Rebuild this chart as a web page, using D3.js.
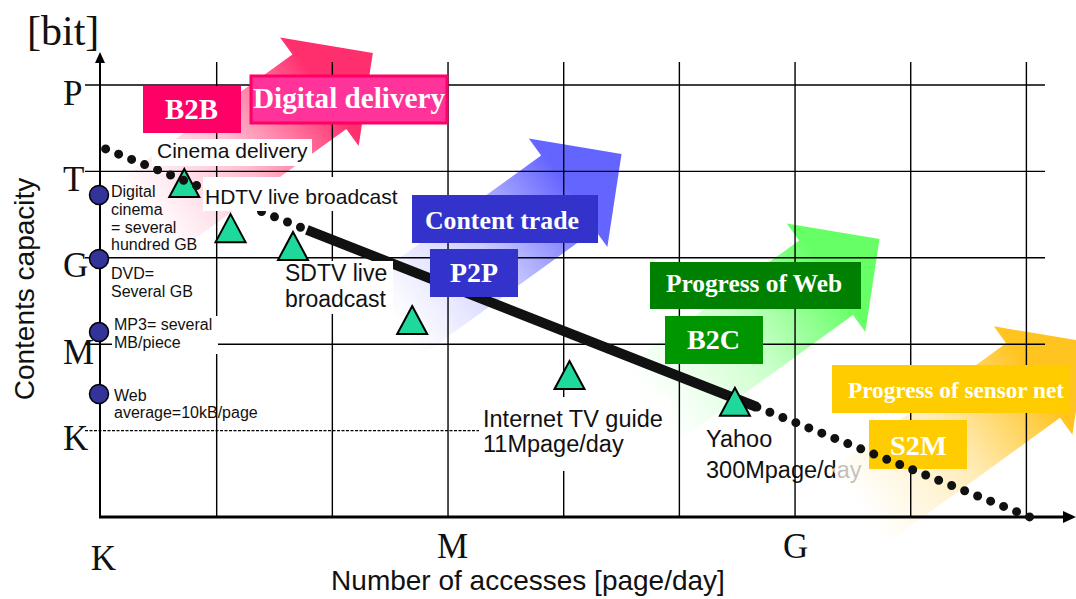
<!DOCTYPE html>
<html><head><meta charset="utf-8">
<script src="https://cdn.jsdelivr.net/npm/d3@7"></script>
<style>
body{margin:0;background:#fff;}
svg{display:block;}
.sans{font-family:"Liberation Sans",Arial,sans-serif;}
.serif{font-family:"Liberation Serif","Times New Roman",serif;}
</style></head><body>
<svg id="chart" width="1076" height="599"></svg>
<script>
// ---------------- data (log10 units) ----------------
const yTickValues = [3, 6, 9, 12, 15];
const yTickLabels = ["K", "M", "G", "T", "P"];
const xTickValues = [3, 6, 9];
const xTickLabels = ["K", "M", "G"];
const xGridValues = [4, 5, 6, 7, 8, 9, 10, 11];
const yGridValues = [6, 9, 12, 15];

const mediaLabels = [["Digital", "cinema", "= several", "hundred GB"], ["DVD=", "Several GB"], ["MP3= several", "MB/piece"], ["Web", "average=10kB/page"]];
const mediaAccess = [3, 3, 3, 3];
const mediaCapacity = [11.18, 8.96, 6.42, 4.27];

const serviceLabels = [["Cinema delivery"], ["HDTV live broadcast"], ["SDTV live", "broadcast"], [], ["Internet TV guide", "11Mpage/day"], ["Yahoo", "300Mpage/day"]];
const serviceAccess = [3.72, 4.12, 4.66, 5.69, 7.05, 8.48];
const serviceCapacity = [11.60, 10.03, 9.41, 6.84, 4.93, 4.00];

const trendAccess = [3.04, 4.78, 8.67, 11.03];
const trendCapacity = [12.78, 9.97, 3.82, 0.0];

const arrowNames = ["Digital delivery", "Content trade", "Progress of Web", "Progress of sensor net"];
const arrowTipAccess = [5.35, 7.50, 9.73, 11.52];
const arrowTipCapacity = [16.11, 12.60, 9.65, 6.08];

const boxLabels = ["B2B", "Digital delivery", "Content trade", "P2P", "Progress of Web", "B2C", "Progress of sensor net", "S2M"];

const xTitle = "Number of accesses [page/day]";
const yTitle = "Contents capacity";
const yUnit = "[bit]";

// ---------------- styles / layout ----------------
const arrowColors = ["#ff2f6e", "#6464ff", "#66ff66", "#ffc41f"];
const boxLayout = [
  {x:143, y:86, w:98, h:47, fill:"#ff0066", cx:191.5, by:119, fs:29, tw:53},
  {x:251, y:76, w:196, h:47, fill:"#ff3399", stroke:"#ff0066", cx:349, by:108, fs:29, tw:192},
  {x:412, y:195, w:186, h:48, fill:"#3333cc", cx:502, by:229, fs:26, tw:154},
  {x:430, y:249, w:88, h:48, fill:"#3333cc", cx:474, by:282, fs:28, tw:48},
  {x:650, y:262, w:211, h:47, fill:"#008000", cx:754, by:292, fs:26, tw:176},
  {x:665, y:316, w:98, h:48, fill:"#009600", cx:713.5, by:349, fs:28, tw:53},
  {x:832, y:365, w:238, h:48, fill:"#ffcc00", cx:956, by:398, fs:24, tw:216},
  {x:869, y:420, w:98, h:49, fill:"#ffcc00", cx:918.5, by:455, fs:28, tw:57}
];
const serviceLayout = [
  {x:157, y:158, fs:21, lh:0, bg:[152,139,160,27]},
  {x:205, y:204, fs:21, lh:0, bg:[203,177,203,34]},
  {x:285, y:281, fs:23, lh:26, bg:[268,261,125,53]},
  null,
  {x:483, y:427, fs:23.5, lh:25, bg:[479,397,192,74]},
  {x:706, y:447, fs:23.5, lh:31, bg:[702,425,100,62]}
];
const mediaLayout = [
  {x:111, y:197, lh:17.8},
  {x:111, y:279, lh:18},
  {x:114, y:330, lh:18, bg:[112,316,106,38]},
  {x:114, y:401, lh:17}
];

const svg = d3.select("#chart");
const x = d3.scaleLinear().domain([3, 11]).range([101, 1026.4]);
const y = d3.scaleLinear().domain([0, 15]).range([517, 85]);
const defs = svg.append("defs");

function multiline(g, lines, lay, cls) {
  const t = g.append("text").attr("class", cls).attr("x", lay.x).attr("y", lay.y)
    .attr("font-size", lay.fs || 16).attr("fill", "#111");
  lines.forEach((l, i) => t.append("tspan").attr("x", lay.x).attr("y", lay.y + i * (lay.lh || 0)).text(l));
  return t;
}

// Layer 1: Yahoo label (sits under the sensor-net arrow)
const yahooIdx = 5;
{
  const L = serviceLayout[yahooIdx];
  svg.append("rect").attr("x", L.bg[0]).attr("y", L.bg[1]).attr("width", L.bg[2]).attr("height", L.bg[3]).attr("fill", "#fff");
  multiline(svg.append("g"), serviceLabels[yahooIdx], L, "sans");
}

// Layer 2: big gradient arrows
const HL = 66, HH = 67, SH = 46, TOT = 281, ANG = -35.9;
const arrowPath = `M0,0 L${-HL},${-HH} L${-HL},${-SH} L${-TOT},${-SH} L${-TOT},${SH} L${-HL},${SH} L${-HL},${HH} Z`;
arrowNames.forEach((n, i) => {
  const c = arrowColors[i];
  const gr = defs.append("linearGradient").attr("id", "ag" + i).attr("x1", 0).attr("x2", 1).attr("y1", 0).attr("y2", 0);
  [[0, "#ffffff", 0.72], [0.4, d3.interpolateRgb("#ffffff", c)(0.35), 0.92], [0.78, c, 1], [1, c, 1]].forEach(s =>
    gr.append("stop").attr("offset", s[0]).attr("stop-color", s[1]).attr("stop-opacity", s[2]));
});
svg.append("g").selectAll("path").data(arrowNames).join("path")
  .attr("d", arrowPath)
  .attr("transform", (d, i) => `translate(${x(arrowTipAccess[i])},${y(arrowTipCapacity[i])}) rotate(${ANG})`)
  .attr("fill", (d, i) => `url(#ag${i})`);

// Layer 3: grid and axes
const grid = svg.append("g").attr("stroke", "#000").attr("stroke-width", 1.4);
grid.selectAll("line.h").data(yGridValues).join("line").attr("class", "h")
  .attr("x1", 85).attr("x2", 1045).attr("y1", d => y(d)).attr("y2", d => y(d));
grid.append("line").attr("x1", 85).attr("x2", 480).attr("y1", y(3)).attr("y2", y(3)).attr("stroke-dasharray", "3 1.5");
grid.selectAll("line.v").data(xGridValues).join("line").attr("class", "v")
  .attr("x1", d => x(d)).attr("x2", d => x(d)).attr("y1", 62).attr("y2", 517);

const gy = svg.append("g").attr("transform", `translate(${x(3) - 1},0)`)
  .call(d3.axisLeft(y).tickValues(yTickValues).tickFormat((d, i) => yTickLabels[i]).tickSize(0).tickPadding(0));
gy.select(".domain").remove();
gy.selectAll("text").attr("class", "serif").attr("font-size", 35).attr("text-anchor", "start")
  .attr("x", -37).attr("dy", 19).attr("fill", "#111");

const gx = svg.append("g").attr("transform", `translate(0,517)`)
  .call(d3.axisBottom(x).tickValues(xTickValues).tickFormat((d, i) => xTickLabels[i]).tickSize(0).tickPadding(0));
gx.select(".domain").remove();
gx.selectAll("text").attr("class", "serif").attr("font-size", 35).attr("fill", "#111")
  .attr("dy", 0).attr("y", (d, i) => i === 0 ? 53 : 41).attr("dx", (d, i) => [2, 4, 0][i]);

// axis lines with arrowheads
svg.append("line").attr("x1", 100).attr("x2", 100).attr("y1", 518).attr("y2", 60).attr("stroke", "#000").attr("stroke-width", 2);
svg.append("path").attr("d", "M100,52 L95,63 L105,63 Z").attr("fill", "#000");
svg.append("line").attr("x1", 99).attr("x2", 1066).attr("y1", 517).attr("y2", 517).attr("stroke", "#000").attr("stroke-width", 3);
svg.append("path").attr("d", "M1076,517 L1063,511 L1063,523 Z").attr("fill", "#000");

// axis titles
svg.append("text").attr("class", "serif").attr("x", 27).attr("y", 45).attr("font-size", 42).attr("fill", "#111").text(yUnit);
svg.append("text").attr("class", "sans").attr("transform", "translate(34,289) rotate(-90)")
  .attr("text-anchor", "middle").attr("font-size", 28).attr("fill", "#111").text(yTitle);
svg.append("text").attr("class", "sans").attr("x", 528).attr("y", 590)
  .attr("text-anchor", "middle").attr("font-size", 28).attr("fill", "#111").text(xTitle);

// Layer 4: thick trend segment
const trendPts = trendAccess.map((a, i) => [x(a), y(trendCapacity[i])]);
const lineGen = d3.line();
svg.append("path").attr("d", lineGen([trendPts[1], trendPts[2]])).attr("stroke", "#111")
  .attr("stroke-width", 10).attr("fill", "none");

// Layer 5: label boxes
const boxes = svg.append("g");
boxLabels.forEach((b, i) => {
  const L = boxLayout[i];
  boxes.append("rect").attr("x", L.x).attr("y", L.y).attr("width", L.w).attr("height", L.h)
    .attr("fill", L.fill).attr("stroke", L.stroke || "none").attr("stroke-width", L.stroke ? 3 : 0);
  boxes.append("text").attr("class", "serif").attr("font-weight", "bold").attr("fill", "#fff")
    .attr("font-size", L.fs).attr("text-anchor", "middle").attr("x", L.cx).attr("y", L.by)
    .attr("textLength", L.tw).attr("lengthAdjust", "spacingAndGlyphs").text(b);
});

// Layer 6: service triangles
svg.append("g").selectAll("path").data(serviceAccess).join("path")
  .attr("d", "M0,-14 L15,14 L-15,14 Z")
  .attr("transform", (d, i) => `translate(${x(d)},${y(serviceCapacity[i])})`)
  .attr("fill", "#1fd89c").attr("stroke", "#000").attr("stroke-width", 2).attr("stroke-linejoin", "miter");

// Layer 7/8: dotted trend segments
const dotted = seg => svg.append("path").attr("d", lineGen(seg)).attr("fill", "none")
  .attr("stroke", "#111").attr("stroke-width", 9).attr("stroke-linecap", "round").attr("stroke-dasharray", "0 14");
dotted([trendPts[2], trendPts[3]]);
dotted([trendPts[0], trendPts[1]]);

// Layer 9: text labels with white backgrounds
const lab = svg.append("g");
serviceLabels.forEach((lines, i) => {
  if (i === yahooIdx || !lines.length) return;
  const L = serviceLayout[i];
  lab.append("rect").attr("x", L.bg[0]).attr("y", L.bg[1]).attr("width", L.bg[2]).attr("height", L.bg[3]).attr("fill", "#fff");
  multiline(lab, lines, L, "sans");
});
mediaLabels.forEach((lines, i) => {
  const L = mediaLayout[i];
  if (L.bg) lab.append("rect").attr("x", L.bg[0]).attr("y", L.bg[1]).attr("width", L.bg[2]).attr("height", L.bg[3]).attr("fill", "#fff");
  multiline(lab, lines, Object.assign({fs: 16}, L), "sans");
});

// Layer 10: media circles on the capacity axis
svg.append("g").selectAll("circle").data(mediaCapacity).join("circle")
  .attr("cx", (d, i) => x(mediaAccess[i]) - 2).attr("cy", d => y(d)).attr("r", 9.5)
  .attr("fill", "#333399").attr("stroke", "#000").attr("stroke-width", 1.5);
</script></body></html>
